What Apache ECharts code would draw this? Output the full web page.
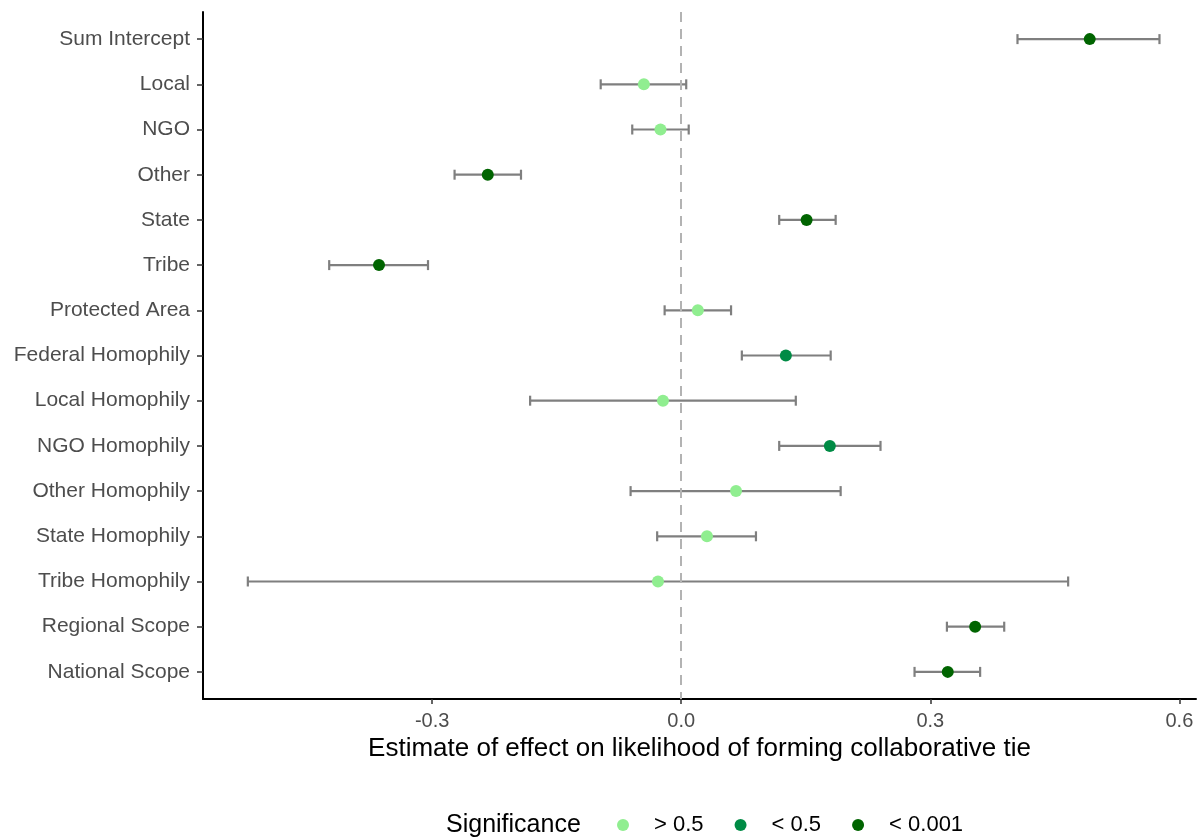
<!DOCTYPE html>
<html>
<head>
<meta charset="utf-8">
<script src="https://cdn.jsdelivr.net/npm/echarts@6/dist/echarts.min.js"></script>
<style>
  html, body { margin: 0; padding: 0; background: #fff; }
  #chart { width: 1198px; height: 840px; }
</style>
</head>
<body>
<div id="chart"></div>
<script>
  // terms, top to bottom
  var terms = ['Sum Intercept', 'Local', 'NGO', 'Other', 'State', 'Tribe', 'Protected Area',
    'Federal Homophily', 'Local Homophily', 'NGO Homophily', 'Other Homophily',
    'State Homophily', 'Tribe Homophily', 'Regional Scope', 'National Scope'];
  var estimate = [0.492, -0.045, -0.025, -0.233, 0.151, -0.364, 0.020,
    0.126, -0.022, 0.179, 0.066, 0.031, -0.028, 0.354, 0.321];
  var lower = [0.405, -0.097, -0.059, -0.273, 0.118, -0.424, -0.020,
    0.073, -0.182, 0.118, -0.061, -0.029, -0.522, 0.320, 0.281];
  var upper = [0.576, 0.006, 0.009, -0.193, 0.186, -0.305, 0.060,
    0.180, 0.138, 0.240, 0.192, 0.090, 0.466, 0.389, 0.360];
  var signif = ['< 0.001', '> 0.5', '> 0.5', '< 0.001', '< 0.001', '< 0.001', '> 0.5',
    '< 0.5', '> 0.5', '< 0.5', '> 0.5', '> 0.5', '> 0.5', '< 0.001', '< 0.001'];
  var levels = ['> 0.5', '< 0.5', '< 0.001'];
  var levelColors = ['#90EE90', '#008B45', '#006400'];
  var xTicks = [-0.3, 0, 0.3, 0.6];

  var font = 'Liberation Sans, Arial, Helvetica, sans-serif';
  var chart = echarts.init(document.getElementById('chart'), null, { renderer: 'canvas' });

  var rowIdx = terms.map(function (t, i) { return i; });
  var barData = terms.map(function (t, i) { return [lower[i], upper[i], i]; });

  var seriesList = [{
    type: 'custom',
    name: 'ci',
    silent: true,
    z: 2,
    encode: { x: [0, 1], y: 2 },
    data: barData,
    renderItem: function (params, api) {
      var a = api.coord([api.value(0), api.value(2)]);
      var b = api.coord([api.value(1), api.value(2)]);
      var h = 5;
      var st = { stroke: '#7f7f7f', lineWidth: 2.2 };
      return {
        type: 'group',
        children: [
          { type: 'line', shape: { x1: a[0], y1: a[1], x2: b[0], y2: b[1] }, style: st },
          { type: 'line', shape: { x1: a[0], y1: a[1] - h, x2: a[0], y2: a[1] + h }, style: st },
          { type: 'line', shape: { x1: b[0], y1: b[1] - h, x2: b[0], y2: b[1] + h }, style: st }
        ]
      };
    },
    markLine: {
      silent: true,
      symbol: 'none',
      label: { show: false },
      lineStyle: { color: '#b3b3b3', type: [10, 7], width: 2 },
      data: [{ xAxis: 0 }]
    }
  }];

  levels.forEach(function (lv, k) {
    var pts = [];
    terms.forEach(function (t, i) {
      if (signif[i] === lv) pts.push([estimate[i], i]);
    });
    seriesList.push({
      type: 'scatter',
      name: lv,
      z: 3,
      symbol: 'circle',
      symbolSize: 12,
      itemStyle: { color: levelColors[k], opacity: 1 },
      data: pts
    });
  });

  var option = {
    animation: false,
    backgroundColor: '#fff',
    textStyle: { fontFamily: font },
    grid: { left: 203, right: 2, top: 12, bottom: 141 },
    xAxis: {
      type: 'value',
      min: -0.576,
      max: 0.62,
      name: 'Estimate of effect on likelihood of forming collaborative tie',
      nameLocation: 'middle',
      nameGap: 37,
      nameTextStyle: { color: '#000', fontSize: 26, fontFamily: font },
      splitLine: { show: false },
      axisLine: { show: true, onZero: false, lineStyle: { color: '#000', width: 2 } },
      axisTick: { show: true, length: 5, customValues: xTicks, lineStyle: { color: '#333', width: 1.5 } },
      axisLabel: {
        customValues: xTicks,
        color: '#4d4d4d', fontSize: 20, margin: 12, fontFamily: font,
        formatter: function (v) { return v.toFixed(1); }
      }
    },
    yAxis: {
      type: 'value',
      inverse: true,
      min: -0.6,
      max: 14.6,
      splitLine: { show: false },
      axisLine: { show: true, onZero: false, lineStyle: { color: '#000', width: 2 } },
      axisTick: { show: true, length: 6, customValues: rowIdx, lineStyle: { color: '#333', width: 1.5 } },
      axisLabel: {
        customValues: rowIdx,
        color: '#4d4d4d', fontSize: 21, margin: 13, fontFamily: font,
        formatter: function (v) { return terms[Math.round(v)]; }
      }
    },
    legend: {
      data: levels,
      left: 617,
      top: 814,
      padding: 0,
      icon: 'circle',
      itemWidth: 12,
      itemHeight: 12,
      itemGap: 31,
      textStyle: { color: '#000', fontSize: 22, lineHeight: 22, fontFamily: font, padding: [0, 0, 0, 20] }
    },
    graphic: [{
      type: 'text',
      x: 446,
      y: 825,
      style: { text: 'Significance', fill: '#000', fontSize: 25, fontFamily: font, verticalAlign: 'middle' }
    }],
    series: seriesList
  };

  chart.setOption(option);
  window.addEventListener('resize', chart.resize);
</script>
</body>
</html>
